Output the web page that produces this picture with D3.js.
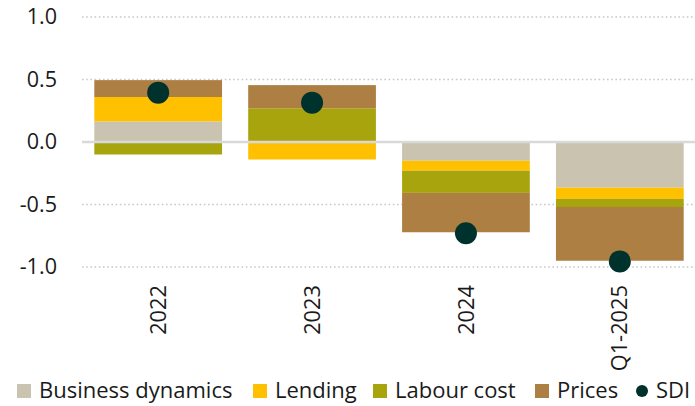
<!DOCTYPE html>
<html><head><meta charset="utf-8">
<script src="https://cdn.jsdelivr.net/npm/d3@7"></script>
<style>
html,body{margin:0;padding:0;background:#fff;}
svg{display:block;font-family:"Open Sans",sans-serif;}
</style></head>
<body><svg id="c" width="695" height="406"></svg>
<script>
const categories = ["2022", "2023", "2024", "Q1-2025"];
const businessDynamics = [0.165, 0.0, -0.15, -0.365];
const lending = [0.195, -0.14, -0.08, -0.09];
const labourCost = [-0.10, 0.27, -0.177, -0.065];
const prices = [0.135, 0.185, -0.315, -0.43];
const sdi = [0.395, 0.315, -0.73, -0.955];
const yTicks = [1.0, 0.5, 0.0, -0.5, -1.0];

const seriesNames = ["Business dynamics", "Lending", "Labour cost", "Prices"];
const seriesColors = ["#C9C3B0", "#FFC000", "#A8A40E", "#AE7F42"];
const sdiColor = "#00322D";

const rows = categories.map((c, i) => ({
  cat: c,
  "Business dynamics": businessDynamics[i],
  "Lending": lending[i],
  "Labour cost": labourCost[i],
  "Prices": prices[i]
}));

const svg = d3.select("#c");
const x = d3.scaleBand().domain(categories).range([82, 696]).paddingInner(0.17).paddingOuter(0.08);
const y = d3.scaleLinear().domain([-1, 1]).range([267, 17]);

// gridlines
svg.append("g").selectAll("line").data(yTicks.filter(t => t !== 0)).join("line")
  .attr("x1", 82).attr("x2", 695)
  .attr("y1", d => y(d)).attr("y2", d => y(d))
  .attr("stroke", "#c8c8c8").attr("stroke-width", 1.6).attr("stroke-dasharray", "1.6,2.6");

// y axis labels
const yAxis = d3.axisLeft(y).tickValues(yTicks).tickFormat(d3.format(".1f")).tickSize(0).tickPadding(0);
const ya = svg.append("g").attr("transform", "translate(57,0)").call(yAxis);
ya.select(".domain").remove();
ya.selectAll("text").attr("font-size", 21.6).attr("fill", "#1a1a1a").attr("font-family", "'Open Sans',sans-serif")
  .text(d => d < 0 ? "-" + Math.abs(d).toFixed(1) : d.toFixed(1));

// stacked bars
const stack = d3.stack().keys(seriesNames).offset(d3.stackOffsetDiverging);
const stacked = stack(rows);
svg.append("g").selectAll("g").data(stacked).join("g")
  .attr("fill", (d, i) => seriesColors[i])
  .selectAll("rect").data(d => d).join("rect")
  .attr("x", d => x(d.data.cat))
  .attr("width", x.bandwidth())
  .attr("y", d => y(Math.max(d[0], d[1])))
  .attr("height", d => Math.abs(y(d[0]) - y(d[1])));

// zero line
svg.append("line").attr("x1", 82).attr("x2", 695).attr("y1", y(0)).attr("y2", y(0))
  .attr("stroke", "#d9d9d9").attr("stroke-width", 2.5);

// SDI dots
svg.append("g").selectAll("circle").data(sdi).join("circle")
  .attr("cx", (d, i) => x(categories[i]) + x.bandwidth() / 2)
  .attr("cy", d => y(d)).attr("r", 11).attr("fill", sdiColor);

// x axis labels
const xAxis = d3.axisBottom(x).tickSize(0).tickPadding(0);
const xa = svg.append("g").attr("transform", "translate(0,285)").call(xAxis);
xa.select(".domain").remove();
xa.selectAll("text").attr("font-size", 21.8).attr("fill", "#1a1a1a").attr("font-family", "'Open Sans',sans-serif")
  .attr("transform", "rotate(-90)").attr("text-anchor", "end").attr("dy", "0.35em").attr("dx", "0").attr("y", 0).attr("x", 0);

// legend
const legend = svg.append("g").attr("font-size", 22).attr("fill", "#1a1a1a");
const items = seriesNames.map((n, i) => ({ name: n, color: seriesColors[i], type: "rect" }))
  .concat([{ name: "SDI", color: sdiColor, type: "circle" }]);
const startX = [17, 253, 373, 535, 636];
items.forEach((it, i) => {
  const g = legend.append("g").attr("transform", `translate(${startX[i]},0)`);
  if (it.type === "rect") {
    g.append("rect").attr("x", 0).attr("y", 384).attr("width", 14).attr("height", 14).attr("fill", it.color);
  } else {
    g.append("circle").attr("cx", 6).attr("cy", 391).attr("r", 6).attr("fill", it.color);
  }
  g.append("text").attr("x", it.type === "rect" ? 22 : 20).attr("y", 398).text(it.name);
});
</script></body></html>
